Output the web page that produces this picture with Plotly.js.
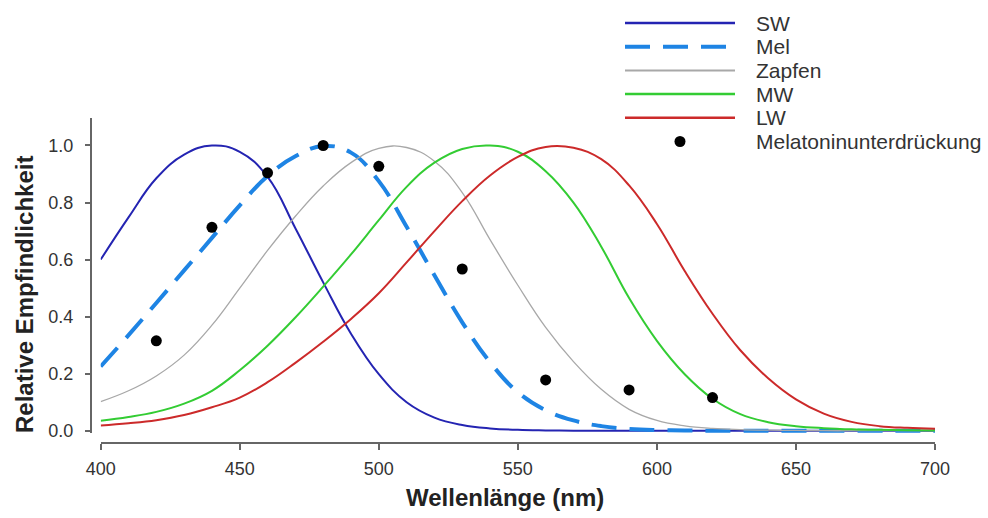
<!DOCTYPE html>
<html>
<head>
<meta charset="utf-8">
<script src="https://cdn.plot.ly/plotly-3.0.1.min.js"></script>
<style>html,body{margin:0;padding:0;background:#fff;}#chart{width:988px;height:518px;}</style>
</head>
<body>
<div id="chart"></div>
<script>
// ---- data ----
const wavelengths = [400,410,420,430,440,450,460,470,480,490,500,510,520,530,540,550,560,570,580,590,600,610,620,630,640,650,660,670,680,690,700];
const swValues  = [0.60,0.748,0.885,0.968,1.0,0.978,0.89,0.71,0.52,0.34,0.198,0.10,0.046,0.02,0.008,0.003,0.001,0,0,0,0,0,0,0,0,0,0,0,0,0,0];
const melValues = [0.225,0.335,0.448,0.562,0.676,0.79,0.893,0.962,0.998,0.975,0.875,0.715,0.545,0.38,0.24,0.135,0.072,0.036,0.016,0.006,0.002,0.001,0,0,0,0,0,0,0,0,0];
const zapfenValues = [0.102,0.14,0.192,0.265,0.37,0.50,0.632,0.752,0.858,0.94,0.99,0.993,0.945,0.835,0.67,0.51,0.362,0.242,0.145,0.075,0.036,0.017,0.008,0.004,0.002,0.001,0,0,0,0,0];
const mwValues  = [0.035,0.048,0.066,0.095,0.14,0.212,0.298,0.397,0.505,0.618,0.738,0.855,0.94,0.988,1.0,0.978,0.91,0.80,0.645,0.465,0.315,0.198,0.112,0.058,0.03,0.016,0.009,0.005,0.003,0.002,0.001];
const lwValues  = [0.018,0.026,0.037,0.055,0.082,0.116,0.17,0.238,0.312,0.392,0.482,0.59,0.70,0.805,0.895,0.96,0.995,0.992,0.952,0.86,0.725,0.56,0.41,0.282,0.184,0.11,0.06,0.031,0.016,0.01,0.007];
const suppressionWavelengths = [420,440,460,480,500,530,560,590,620];
const suppressionValues = [0.315,0.713,0.904,1.0,0.927,0.567,0.178,0.143,0.116];
const seriesNames = ["SW","Mel","Zapfen","MW","LW","Melatoninunterdrückung"];
const xTicks = [400,450,500,550,600,650,700];
const yTicks = [0,0.2,0.4,0.6,0.8,1.0];

// ---- styles ----
const lineStyles = [
  {color:"#2424b2", width:2, dash:"solid"},
  {color:"#1e84e4", width:4, dash:"25px,13px"},
  {color:"#a8a8a8", width:1.3, dash:"solid"},
  {color:"#33cc33", width:2, dash:"solid"},
  {color:"#cc2a2a", width:2, dash:"solid"}
];
const lineSeries = [swValues, melValues, zapfenValues, mwValues, lwValues];

const traces = lineSeries.map((vals,i)=>({
  type:"scatter", mode:"lines", name:seriesNames[i],
  x:wavelengths, y:vals,
  line:{color:lineStyles[i].color, width:lineStyles[i].width, dash:lineStyles[i].dash, shape:"spline", smoothing:1.2},
  hoverinfo:"skip"
}));
traces.push({
  type:"scatter", mode:"markers", name:seriesNames[5],
  x:suppressionWavelengths, y:suppressionValues,
  marker:{color:"#000", size:11}, cliponaxis:false
});

// page geometry (pixels)
const W=988, H=518, L=91, R=48, T=118, B=76;
const pw=W-L-R, ph=H-T-B;
const px2x = p => (p-L)/pw;
const px2y = p => (H-B-p)/ph;

// manual legend
const shapes=[], annotations=[];
seriesNames.forEach((name,i)=>{
  const yc = 23 + i*23.7;
  if(i<5){
    shapes.push({type:"line", xref:"paper", yref:"paper",
      x0:px2x(625), x1:px2x(735), y0:px2y(yc), y1:px2y(yc),
      line:{color:lineStyles[i].color, width:i===1?4:(i===2?2:2.5), dash:lineStyles[i].dash}});
  } else {
    shapes.push({type:"circle", xref:"paper", yref:"paper",
      x0:px2x(680-5.5), x1:px2x(680+5.5), y0:px2y(yc+5.5), y1:px2y(yc-5.5),
      fillcolor:"#000", line:{color:"#000", width:0}});
  }
  annotations.push({xref:"paper", yref:"paper", x:px2x(754), y:px2y(yc),
    xanchor:"left", yanchor:"middle", text:name, showarrow:false,
    font:{family:"Liberation Sans, Arial, sans-serif", size:21, color:"#333"}});
});
// y axis line (ends above the detached x axis)
shapes.push({type:"line", xref:"paper", yref:"paper", x0:0, x1:0, y0:px2y(433), y1:1,
  line:{color:"#666", width:2}});
annotations.push({xref:"paper", yref:"paper", x:px2x(505), y:px2y(498), xanchor:"center", yanchor:"middle",
  text:"<b>Wellenlänge (nm)</b>", showarrow:false, font:{family:"Liberation Sans, Arial, sans-serif", size:24, color:"#222"}});
annotations.push({xref:"paper", yref:"paper", x:px2x(24), y:px2y(295), xanchor:"center", yanchor:"middle",
  text:"<b>Relative Empfindlichkeit</b>", textangle:-90, showarrow:false, font:{family:"Liberation Sans, Arial, sans-serif", size:24, color:"#222"}});

const axisCommon = {
  showgrid:false, zeroline:false,
  ticks:"outside", ticklen:6, tickwidth:2, tickcolor:"#666",
  tickfont:{family:"Liberation Sans, Arial, sans-serif", size:18, color:"#333"},
  fixedrange:true
};

const layout = {
  width:W, height:H, margin:{l:L, r:R, t:T, b:B, pad:0},
  paper_bgcolor:"#fff", plot_bgcolor:"#fff", showlegend:false,
  xaxis:Object.assign({}, axisCommon, {domain:[px2x(100.7), px2x(935)], range:[400,700],
    anchor:"y", showline:true, linecolor:"#666", linewidth:2,
    tickvals:xTicks, ticktext:xTicks.map(String), ticklabelstandoff:3}),
  yaxis:Object.assign({}, axisCommon, {domain:[0, 1], range:[-0.0396,1.0964],
    anchor:"free", position:0, showline:false,
    tickvals:yTicks, ticktext:yTicks.map(v=>v.toFixed(1)), ticklabelstandoff:8}),
  shapes:shapes, annotations:annotations
};

Plotly.newPlot("chart", traces, layout, {staticPlot:true, displayModeBar:false});
</script>
</body>
</html>
